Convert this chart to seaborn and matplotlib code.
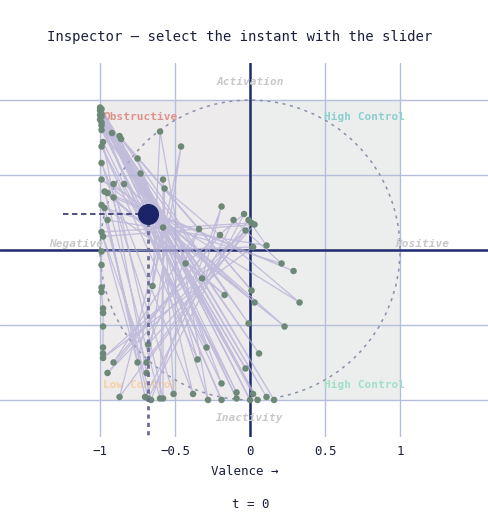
import numpy as np
import pandas as pd
import matplotlib.pyplot as plt
from matplotlib.patches import Rectangle, Circle
import seaborn as sns

sns.set_style("white")
plt.rcParams['font.family'] = ['DejaVu Sans Mono', 'DejaVu Sans']

# trajectory through valence / arousal space
valence = [-1.00, 0.00, -0.99, 0.16, -1.00, 0.05, -0.99, 0.11, -1.00, -0.09,
           -0.99, 0.02, -1.00, -0.03, -0.99, -0.19, -0.99, 0.06, -0.99, -0.09,
           -0.92, -0.01, -0.87, 0.01, -0.86, -0.28, -0.60, -0.65, -0.46, -0.69,
           -0.98, -0.19, -0.75, -0.35, -0.99, -0.29, -0.73, -0.38, -0.99, -0.51,
           -0.58, -0.58, -0.91, 0.03, -0.84, 0.23, -0.99, 0.33, -0.57, -0.60,
           -0.97, -0.17, -0.95, 0.29, -0.91, -0.32, -0.19, -0.66, -0.99, -0.43,
           -0.04, -0.68, -0.97, 0.21, -0.11, -0.70, -0.95, 0.11, -0.01, -0.87,
           -0.58, -0.75, -0.99, 0.01, -0.69, -0.98, 0.03, -0.68, -0.34, -0.91,
           -0.20, -0.95, -0.03, -0.98, 0.02, -0.99, -0.99, -0.99, -0.99, -0.98,
           -0.98, -0.98, -0.98, -0.98]
arousal = [0.95, -1.00, 0.94, -1.00, 0.93, -1.00, 0.91, -0.98, 0.90, -0.99,
           0.89, -0.96, 0.87, -0.79, 0.85, -1.00, 0.83, -0.69, 0.80, -0.95,
           0.78, -0.49, 0.76, -0.27, 0.74, -1.00, 0.79, -0.24, 0.69, -0.82,
           0.72, -0.89, 0.61, -0.73, 0.69, -0.65, 0.51, -0.96, 0.58, -0.96,
           0.47, -0.99, 0.44, -0.35, 0.44, -0.51, 0.47, -0.35, 0.41, -0.99,
           0.39, -0.30, 0.38, -0.14, 0.35, -0.19, 0.29, -1.00, 0.30, -0.09,
           0.24, -0.99, 0.28, -0.09, 0.20, -0.98, 0.20, 0.03, 0.20, -0.98,
           0.15, -0.75, 0.12, 0.18, -0.75, 0.09, 0.17, -0.63, 0.14, -0.75,
           0.10, -0.82, 0.13, -0.72, 0.02, -0.01, -0.10, -0.25, -0.28, -0.39,
           -0.42, -0.51, -0.65, -0.69]
df = pd.DataFrame({"valence": valence, "arousal": arousal, "step": range(len(valence))})

current = (-0.68, 0.24)   # instant t = 0

quadrants = [("Obstructive", -0.73, 0.89, "#e0908a"),
             ("High Control", 0.76, 0.89, "#8ccfd0"),
             ("Low Control", -0.73, -0.90, "#f6d0a2"),
             ("High Control", 0.76, -0.90, "#9fe0c8")]
poles = [("Activation", 0.0, 1.12), ("Inactivity", 0.0, -1.12),
         ("Negative", -1.16, 0.04), ("Positive", 1.15, 0.04)]

fig = plt.figure(figsize=(4.89, 5.16), dpi=100)
ax = fig.add_axes([0, 79 / 516, 1, 374 / 516])
ax.set_xlim(-1.667, 1.593)
ax.set_ylim(-1.247, 1.247)

ax.add_patch(Rectangle((-1, -1), 1, 2, color="#eeebec", zorder=0, lw=0))
ax.add_patch(Rectangle((0, -1), 1, 2, color="#eceeed", zorder=0, lw=0))
ax.add_patch(Circle((0, 0), 1, fill=False, ec="#8a90ac", ls=(0, (2, 3)), lw=1.1, zorder=1))

for v in [-1, -0.5, 0.5, 1]:
    ax.axvline(v, color="#b4c0da", lw=1, zorder=0.5)
    ax.axhline(v, color="#b4c0da", lw=1, zorder=0.5)
ax.axvline(0, color="#1f2a6e", lw=1.8, zorder=2)
ax.axhline(0, color="#1f2a6e", lw=1.8, zorder=2)

sns.lineplot(data=df, x="valence", y="arousal", sort=False, estimator=None,
             color="#b3aed6", lw=0.9, alpha=0.75, ax=ax, zorder=3)
sns.scatterplot(data=df, x="valence", y="arousal", color="#6e8878", s=22,
                edgecolor="none", ax=ax, zorder=4)

ax.plot([-1.247, current[0]], [current[1], current[1]], color="#3c4378",
        ls=(0, (3, 2)), lw=1.3, zorder=5)
ax.plot([current[0], current[0]], [current[1], -1.247], color="#6a6e98",
        ls=(0, (1.5, 1.5)), lw=2, zorder=5)
ax.scatter([current[0]], [current[1]], s=200, color="#1a2466", zorder=6)

for label, x, y, c in quadrants:
    ax.text(x, y, label, color=c, fontsize=8, fontweight="bold", ha="center", va="center", zorder=2)
for label, x, y in poles:
    ax.text(x, y, label, color="#c8c8c8", fontsize=8, fontweight="bold", style="italic",
            ha="center", va="center", zorder=2)

ax.set_xticks([-1, -0.5, 0, 0.5, 1])
ax.set_xticklabels(["\u22121", "\u22120.5", "0", "0.5", "1"], fontsize=9, color="#1a1f3a")
ax.set_yticks([])
ax.tick_params(axis="x", length=0, pad=6)
ax.set_xlabel("Valence \u2192", fontsize=9, color="#1a1f3a", labelpad=5)
ax.set_ylabel("")
for s in ax.spines.values():
    s.set_visible(False)

fig.text(0.49, 1 - 37 / 516, "Inspector \u2014 select the instant with the slider",
         ha="center", va="center", fontsize=10, color="#1a1f3a")
fig.text(0.512, 1 - 505 / 516, "t = 0", ha="center", va="center", fontsize=9, color="#1a1f3a")

fig.savefig("out.png", dpi=100)
plt.close()
